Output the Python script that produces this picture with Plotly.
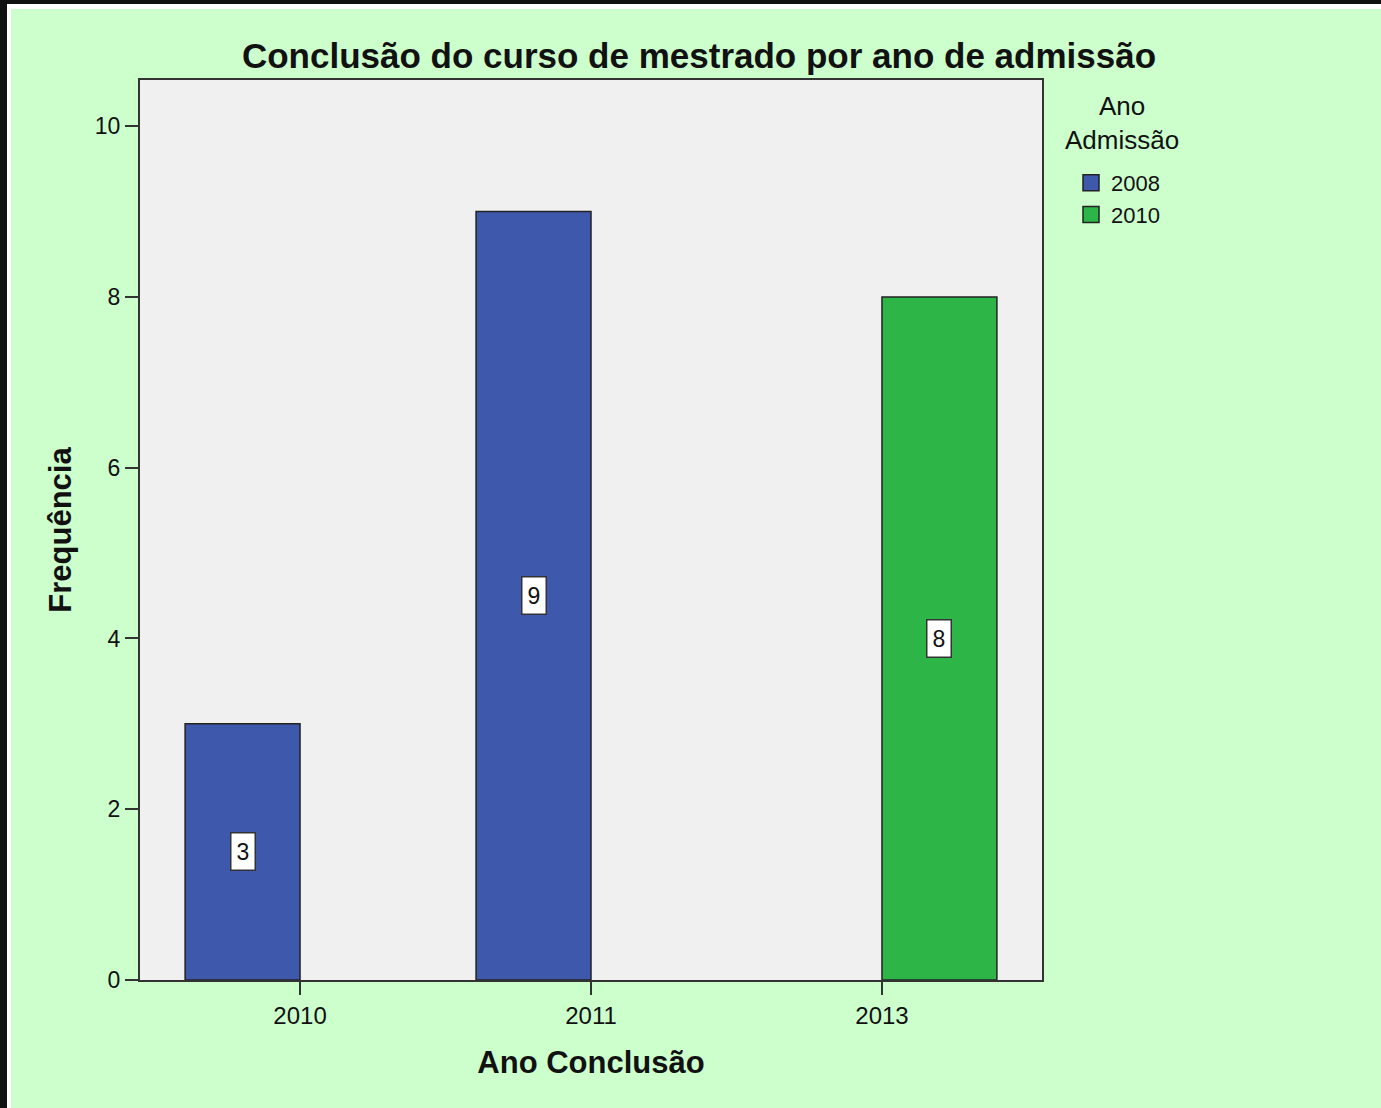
import plotly.graph_objects as go

# ---- data ----
categories = ["2010", "2011", "2013"]
series_names = ["2008", "2010"]
values_2008 = [3, 9, None]
values_2010 = [None, None, 8]
series_values = [values_2008, values_2010]
series_colors = ["#3E58AC", "#2DB548"]
y_ticks = [0, 2, 4, 6, 8, 10]

title_text = "Conclusão do curso de mestrado por ano de admissão"
x_title = "Ano Conclusão"
y_title = "Frequência"
legend_title = "Ano<br>Admissão"

# ---- layout geometry ----
W, H = 1381, 1108
L, R, T, B = 140, 1042, 80, 980
BARGAP = 0.21
FONT = "Liberation Sans, Arial, sans-serif"
BG = "#CCFFCC"
EDGE = "#222222"


def px_x(px):
    return (px - L) / (R - L)


def px_y(py):
    return (B - py) / (B - T)


fig = go.Figure()

for name, vals, col in zip(series_names, series_values, series_colors):
    fig.add_trace(go.Bar(
        x=categories, y=vals, name=name,
        marker=dict(color=col, line=dict(color=EDGE, width=1.5)),
        showlegend=False, hoverinfo="x+y+name",
    ))
    # legend proxy with larger square symbol
    fig.add_trace(go.Scatter(
        x=[None], y=[None], mode="markers", name=name,
        marker=dict(symbol="square", size=16, color=col,
                    line=dict(color=EDGE, width=1.5)),
        showlegend=True,
    ))

# value labels in boxes at half height of each bar
n_series = len(series_values)
annotations = []
for i, vals in enumerate(series_values):
    offset = (i - (n_series - 1) / 2) * (1 - BARGAP) / n_series
    for j, v in enumerate(vals):
        if v is None:
            continue
        annotations.append(dict(
            x=j + offset, y=v / 2, xref="x", yref="y",
            text=str(v), showarrow=False,
            font=dict(family=FONT, size=23, color="#111111"),
            bgcolor="white", bordercolor="#333333", borderwidth=1.5,
            borderpad=5,
        ))

# legend title (centered lines)
annotations.append(dict(
    x=px_x(1122), y=px_y(123), xref="paper", yref="paper",
    text=legend_title, showarrow=False, align="center",
    xanchor="center", yanchor="middle",
    font=dict(family=FONT, size=26, color="#111111"),
))

# frame strips along top and left edges (outside plot area)
shapes = [
    dict(type="rect", xref="paper", yref="paper",
         x0=px_x(-5), x1=px_x(W + 5), y0=px_y(4), y1=px_y(-5),
         fillcolor="#111111", line=dict(width=0), layer="above"),
    dict(type="rect", xref="paper", yref="paper",
         x0=px_x(-5), x1=px_x(7), y0=px_y(H + 5), y1=px_y(-5),
         fillcolor="#111111", line=dict(width=0), layer="above"),
    dict(type="rect", xref="paper", yref="paper",
         x0=px_x(7), x1=px_x(W + 5), y0=px_y(9), y1=px_y(4),
         fillcolor="white", line=dict(width=0), layer="above"),
    dict(type="rect", xref="paper", yref="paper",
         x0=px_x(7), x1=px_x(11), y0=px_y(H + 5), y1=px_y(4),
         fillcolor="white", line=dict(width=0), layer="above"),
]

fig.update_layout(
    width=W, height=H,
    margin=dict(l=L, r=W - R, t=T, b=H - B, pad=0),
    paper_bgcolor=BG, plot_bgcolor="#F0F0F0",
    barmode="group", bargap=BARGAP, bargroupgap=0,
    font=dict(family=FONT, size=22, color="#111111"),
    title=dict(text=title_text, x=699 / W, xref="container",
               xanchor="center", y=1 - 56 / H, yanchor="middle",
               font=dict(family=FONT, size=35, color="#111111", weight="bold")),
    xaxis=dict(
        type="category", categoryorder="array", categoryarray=categories,
        range=[-0.55, 2.55],
        showline=True, linecolor="#333333", linewidth=2, mirror=True,
        ticks="outside", ticklen=13, tickwidth=2, tickcolor="#333333",
        tickfont=dict(family=FONT, size=24, color="#111111"),
        showgrid=False, zeroline=False,
        title=dict(text=x_title, standoff=24,
                   font=dict(family=FONT, size=31, color="#111111", weight="bold")),
    ),
    yaxis=dict(
        range=[0, 10.54], tickvals=y_ticks,
        showline=True, linecolor="#333333", linewidth=2, mirror=True,
        ticks="outside", ticklen=13, tickwidth=2, tickcolor="#333333",
        tickfont=dict(family=FONT, size=23, color="#111111"),
        showgrid=False, zeroline=False,
        title=dict(text=y_title, standoff=14,
                   font=dict(family=FONT, size=31, color="#111111", weight="bold")),
    ),
    legend=dict(
        x=px_x(1071), xanchor="left", y=px_y(162), yanchor="top",
        bgcolor="rgba(0,0,0,0)", borderwidth=0,
        font=dict(family=FONT, size=22, color="#111111"),
        itemwidth=30, tracegroupgap=0,
    ),
    annotations=annotations,
    shapes=shapes,
    hovermode="closest",
)

fig.write_html(
    "out.html",
    config={"displayModeBar": False},
    post_script="document.body.style.margin='0';document.body.style.overflow='hidden';",
)
